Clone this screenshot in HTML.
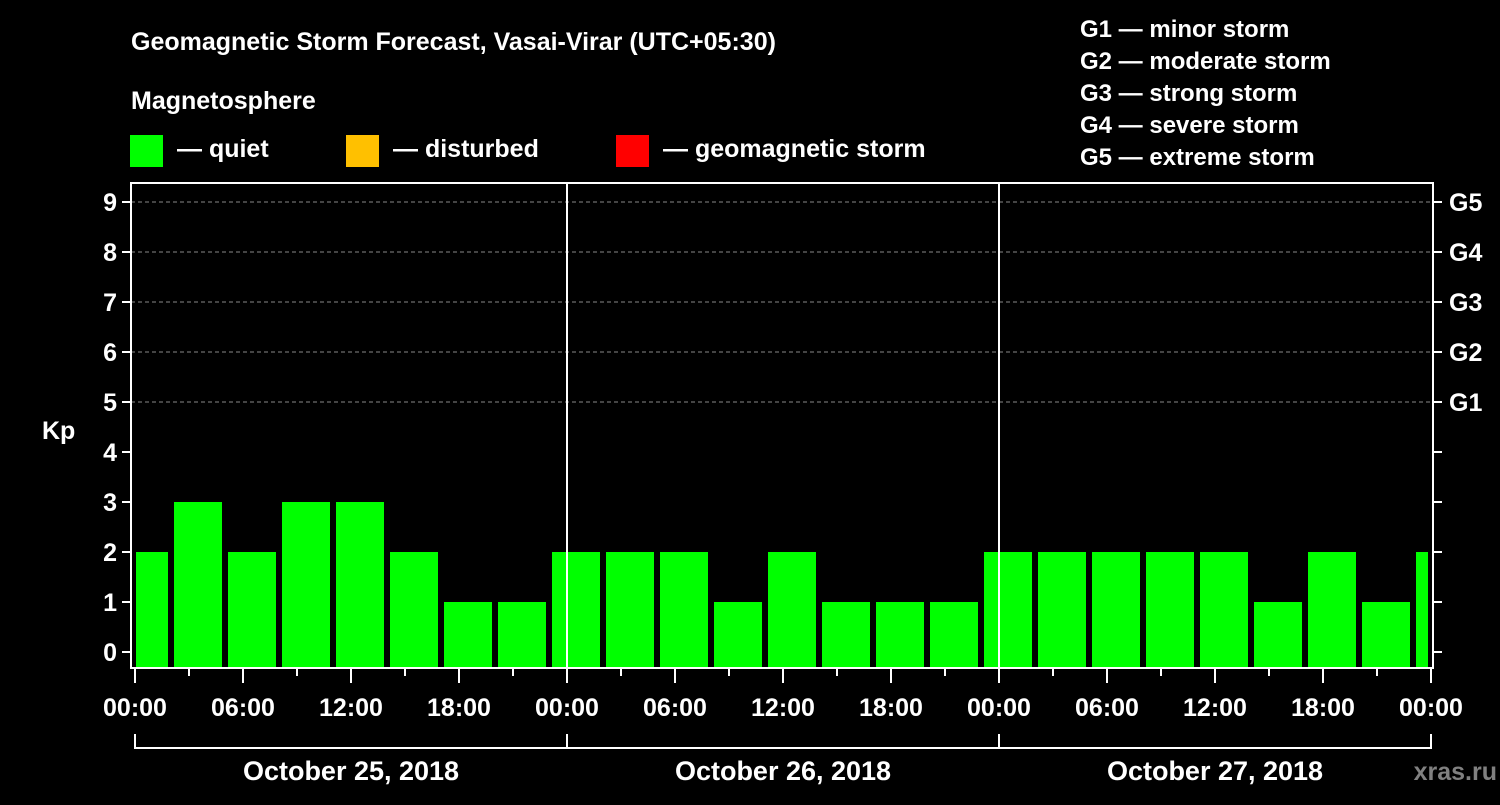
<!DOCTYPE html>
<html><head><meta charset="utf-8"><style>
body{margin:0;background:#000;width:1500px;height:800px;overflow:hidden}
svg text{font-family:"Liberation Sans",Arial,sans-serif;font-weight:bold;fill:#fff}
</style></head><body>
<svg id="chart" width="1500" height="800">
<text x="131" y="50" font-size="25">Geomagnetic Storm Forecast, Vasai-Virar (UTC+05:30)</text>
<text x="131" y="109" font-size="25">Magnetosphere</text>
<rect x="130" y="135" width="33" height="32" fill="#00ff00"/>
<text x="177" y="157" font-size="25">— quiet</text>
<rect x="346" y="135" width="33" height="32" fill="#ffc000"/>
<text x="393" y="157" font-size="25">— disturbed</text>
<rect x="616" y="135" width="33" height="32" fill="#ff0000"/>
<text x="663" y="157" font-size="25">— geomagnetic storm</text>
<g font-size="24">
<text x="1080" y="37">G1 — minor storm</text>
<text x="1080" y="69">G2 — moderate storm</text>
<text x="1080" y="101">G3 — strong storm</text>
<text x="1080" y="133">G4 — severe storm</text>
<text x="1080" y="165">G5 — extreme storm</text>
</g>
<text x="42" y="439" font-size="25">Kp</text>
<text x="1497" y="780" font-size="25" text-anchor="end" style="fill:#808080">xras.ru</text>
<g id="plot"></g>
</svg>
<script>
const kpValues=[2,3,2,3,3,2,1,1,2,2,2,1,2,1,1,1,2,2,2,2,2,1,2,1,2];
const yTicks=[0,1,2,3,4,5,6,7,8,9];
const gLabels=["G1","G2","G3","G4","G5"];
const xTickLabels=["00:00","06:00","12:00","18:00","00:00","06:00","12:00","18:00","00:00","06:00","12:00","18:00","00:00"];
const dayLabels=["October 25, 2018","October 26, 2018","October 27, 2018"];
const NS="http://www.w3.org/2000/svg";
const g=document.getElementById('plot');
const X0=135,HPX=18,L=131,R=1433,T=183,B=668;
const xs=h=>X0+h*HPX;
const ys=v=>652-v*50;
function mk(tag,attrs,name){const e=document.createElementNS(NS,tag);for(const k in attrs)e.setAttribute(k,attrs[k]);


g.appendChild(e);return e;}
// grid
[5,6,7,8,9].forEach(v=>mk('line',{x1:L,x2:R,y1:ys(v),y2:ys(v),stroke:'#888','stroke-dasharray':'4,3','stroke-width':1},'grid-line'));
// bars: 3h blocks starting at 2:00 local offset, first partial
kpValues.forEach((v,i)=>{
  let s=-1+3*i, e=s+3;
  let x1=xs(s)+3, x2=xs(e)-3;
  if(x1<xs(0)+1)x1=xs(0)+1;
  if(x2>R-5)x2=R-5;
  mk('rect',{x:x1,y:ys(v),width:x2-x1,height:B-ys(v),fill:'#00ff00'},'kp-bar');
});
// frame
mk('rect',{x:L,y:T,width:R-L,height:B-T,fill:'none',stroke:'#fff','stroke-width':2},'plot-frame');
[1,2].forEach(d=>mk('line',{x1:xs(24*d),x2:xs(24*d),y1:T,y2:B,stroke:'#fff','stroke-width':2},'day-divider'));
// y ticks
yTicks.forEach(v=>{
  mk('line',{x1:L-9,x2:L,y1:ys(v),y2:ys(v),stroke:'#fff','stroke-width':2},'y-tick');
  mk('line',{x1:R,x2:R+9,y1:ys(v),y2:ys(v),stroke:'#fff','stroke-width':2},'y-tick-right');
  const t=mk('text',{x:L-14,y:ys(v)+9,'font-size':25,'text-anchor':'end'},'y-tick-label');t.textContent=v;
});
gLabels.forEach((s,i)=>{const t=mk('text',{x:1449,y:ys(5+i)+9,'font-size':25},'g-level-label');t.textContent=s;});
// x ticks
for(let h=0;h<=72;h+=3){mk('line',{x1:xs(h),x2:xs(h),y1:B,y2:B+(h%6==0?15:8),stroke:'#fff','stroke-width':2},'x-tick');}
xTickLabels.forEach((s,i)=>{const t=mk('text',{x:xs(i*6),y:716,'font-size':25,'text-anchor':'middle'},'x-tick-label');t.textContent=s;});
// day brackets
dayLabels.forEach((s,d)=>{
  mk('path',{d:`M${xs(24*d)},734V748H${xs(24*d+24)}V734`,fill:'none',stroke:'#fff','stroke-width':2},'day-bracket');
  const t=mk('text',{x:xs(24*d+12),y:780,'font-size':27,'text-anchor':'middle'},'day-label');t.textContent=s;
});
</script>
</body></html>
